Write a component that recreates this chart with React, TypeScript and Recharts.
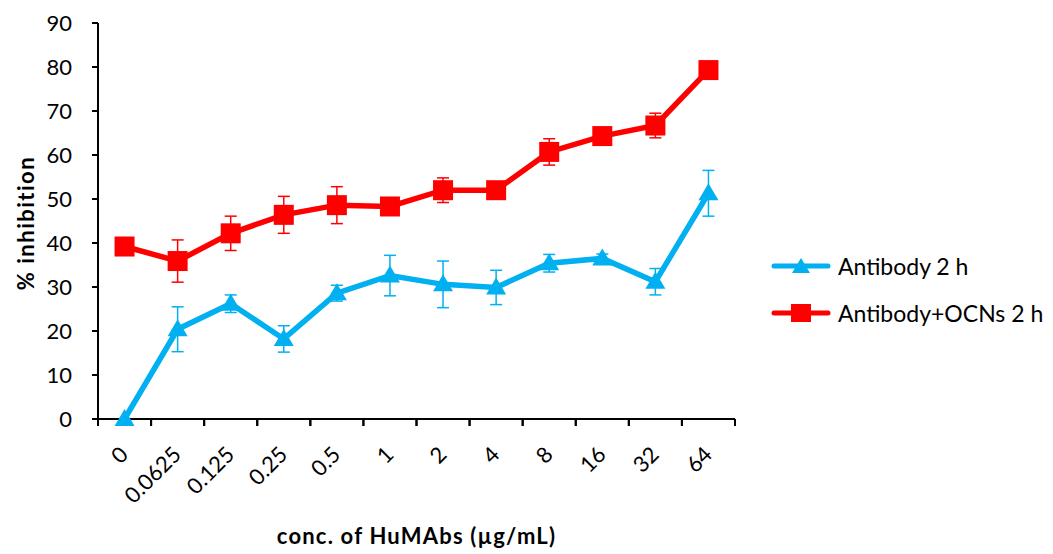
import { LineChart, Line, XAxis, YAxis, ErrorBar, Legend, Label } from "recharts";

// concentrations on the x axis (µg/mL)
const categories = ["0", "0.0625", "0.125", "0.25", "0.5", "1", "2", "4", "8", "16", "32", "64"];

// % inhibition
const antibody = [0, 20.4, 26.2, 18.2, 28.6, 32.6, 30.6, 29.9, 35.4, 36.5, 31.2, 51.3];
const antibodyErr = [0, 5.1, 2.0, 3.0, 1.8, 4.6, 5.3, 3.9, 2.0, 1.0, 3.0, 5.2];
const antibodyOcn = [39.2, 35.9, 42.2, 46.4, 48.6, 48.3, 52.0, 52.0, 60.7, 64.3, 66.7, 79.3];
const antibodyOcnErr = [0, 4.8, 3.9, 4.2, 4.2, 1.0, 2.8, 0, 3.0, 0.6, 2.8, 0];

const yTicks = [0, 10, 20, 30, 40, 50, 60, 70, 80, 90];

const SERIES_AB = "Antibody 2 h";
const SERIES_OCN = "Antibody+OCNs 2 h";

const FONT = "Lato, 'Open Sans', sans-serif";
const BLUE = "#00B0F0";
const RED = "#FF0000";

const data = categories.map((conc, i) => ({
    conc,
    ab: antibody[i],
    abErr: antibodyErr[i],
    ocn: antibodyOcn[i],
    ocnErr: antibodyOcnErr[i],
}));

function Square(props: any) {
    const { cx, cy } = props;
    if (cx == null || cy == null) return null;
    return <rect x={cx - 10} y={cy - 10} width={20} height={20} fill={RED} />;
}

function Triangle(props: any) {
    const { cx, cy } = props;
    if (cx == null || cy == null) return null;
    return <polygon points={`${cx},${cy - 10} ${cx + 10},${cy + 7} ${cx - 10},${cy + 7}`} fill={BLUE} />;
}

// tick marks sit between categories, like the Excel original
function XTick(props: any) {
    const { x, y, payload, width, visibleTicksCount } = props;
    const half = width && visibleTicksCount ? width / visibleTicksCount / 2 : 26.5;
    const tx = x + 5;
    const ty = y + 37;
    return (
        <g>
            <line x1={x - half} y1={y} x2={x - half} y2={y + 7} stroke="#000" strokeWidth={2} />
            <line x1={x + half} y1={y} x2={x + half} y2={y + 7} stroke="#000" strokeWidth={2} />
            <text
                x={tx}
                y={ty}
                transform={`rotate(-45, ${tx}, ${ty})`}
                textAnchor="end"
                fontSize={22}
                fontFamily={FONT}
                fill="#000"
            >
                {payload.value}
            </text>
        </g>
    );
}

function LegendBox() {
    const items = [
        { label: SERIES_AB, color: BLUE, tri: true },
        { label: SERIES_OCN, color: RED, tri: false },
    ];
    return (
        <div style={{ fontFamily: FONT, fontSize: 23, color: "#000" }}>
            {items.map((it) => (
                <div key={it.label} style={{ display: "flex", alignItems: "center", height: 47 }}>
                    <svg width={64} height={24} style={{ marginRight: 3 }}>
                        <line x1={3} y1={12} x2={57} y2={12} stroke={it.color} strokeWidth={5} strokeLinecap="round" />
                        {it.tri
                            ? <polygon points="30,4 39,19 21,19" fill={it.color} />
                            : <rect x={20} y={3} width={20} height={18} fill={it.color} />}
                    </svg>
                    <span>{it.label}</span>
                </div>
            ))}
        </div>
    );
}

export default function App() {
    return (
        <LineChart
            width={1045}
            height={546}
            data={data}
            margin={{ top: 15, right: 318, bottom: 5, left: 0 }}
        >
            <XAxis
                dataKey="conc"
                scale="band"
                height={130}
                interval={0}
                tick={<XTick />}
                tickLine={false}
                tickSize={0}
                tickMargin={0}
                axisLine={{ stroke: "#000", strokeWidth: 2 }}
            >
                <Label
                    content={({ viewBox }: any) => {
                        const cx = viewBox.x + viewBox.width / 2;
                        const cy = viewBox.y + 116;
                        return (
                            <text x={cx} y={cy} textAnchor="middle" dominantBaseline="central"
                                fontWeight="bold" fontSize={22} letterSpacing={1.2} fontFamily={FONT} fill="#000">
                                conc. of HuMAbs (µg/mL)
                            </text>
                        );
                    }}
                />
            </XAxis>
            <YAxis
                width={90}
                domain={[0, 90]}
                ticks={yTicks}
                interval={0}
                tickSize={6}
                tickMargin={20}
                tick={{ fill: "#000", fontSize: 22, fontFamily: FONT }}
                tickLine={{ stroke: "#000", strokeWidth: 2 }}
                axisLine={{ stroke: "#000", strokeWidth: 2 }}
            >
                <Label
                    content={({ viewBox }: any) => {
                        const cx = viewBox.x + 17;
                        const cy = viewBox.y + viewBox.height / 2 + 2;
                        return (
                            <text x={cx} y={cy} transform={`rotate(-90, ${cx}, ${cy})`} textAnchor="middle"
                                dominantBaseline="central" fontWeight="bold" fontSize={22} letterSpacing={1.5}
                                fontFamily={FONT} fill="#000">
                                % inhibition
                            </text>
                        );
                    }}
                />
            </YAxis>
            <Legend
                layout="horizontal"
                verticalAlign="middle"
                align="center"
                content={() => <LegendBox />}
                wrapperStyle={{ left: 763, top: 234, width: 280 }}
            />
            <Line
                name={SERIES_AB}
                dataKey="ab"
                stroke={BLUE}
                strokeWidth={5.5}
                isAnimationActive={false}
                activeDot={false}
                dot={(p: any) => {
                    const { key, ...rest } = p;
                    return <Triangle key={key ?? p.index} {...rest} />;
                }}
            >
                <ErrorBar dataKey="abErr" width={6} stroke={BLUE} strokeWidth={1.5} />
            </Line>
            <Line
                name={SERIES_OCN}
                dataKey="ocn"
                stroke={RED}
                strokeWidth={5.5}
                isAnimationActive={false}
                activeDot={false}
                dot={(p: any) => {
                    const { key, ...rest } = p;
                    return <Square key={key ?? p.index} {...rest} />;
                }}
            >
                <ErrorBar dataKey="ocnErr" width={6} stroke={RED} strokeWidth={1.5} />
            </Line>
        </LineChart>
    );
}
